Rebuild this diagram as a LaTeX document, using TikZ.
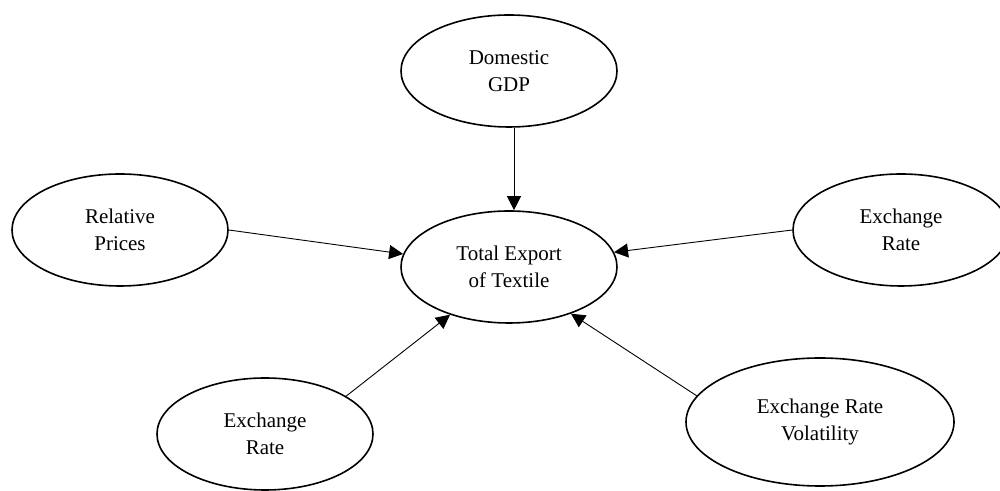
\documentclass[tikz,border=0pt]{standalone}
\usepackage{fontspec}
\setmainfont{Liberation Serif}
\usetikzlibrary{shapes.geometric}
\usetikzlibrary{arrows.meta}

\tikzset{
factor/.style = {ellipse, draw, line width = 0.8pt, inner sep = 0pt,
  minimum width = 108pt, minimum height = 56pt, align = center,
  font = \fontsize{10.5}{13.35}\selectfont},
link/.style = {-{Triangle[length = 7pt, width = 7pt]}, line width = 0.45pt}
}

\begin{document}
\begin{tikzpicture}[x = 0.5pt, y = 0.5pt]
\useasboundingbox (0, 0) rectangle (1000, 491);

\node[factor] (gdp) at (509, 420) {Domestic\\GDP};
\node[factor] (rel) at (120, 261) {Relative\\Prices};
\node[factor] (tot) at (509, 224) {Total Export\\of Textile};
\node[factor] (exr) at (901, 261) {Exchange\\Rate};
\node[factor] (exl) at (265, 57) {Exchange\\Rate};
\node[factor, minimum width = 134pt, minimum height = 64pt] (vol) at (820, 69)
  {Exchange Rate\\Volatility};

\draw[link] ([xshift = 2.5pt]gdp.south) -- ([xshift = 2.5pt]tot.north);
\draw[link] (rel.east) -- (tot.173);
\draw[link] (exr.west) -- (tot.8);
\draw[link] (exl.25) -- (tot.219);
\draw[link] (vol.168) -- (tot.323);
\end{tikzpicture}
\end{document}
